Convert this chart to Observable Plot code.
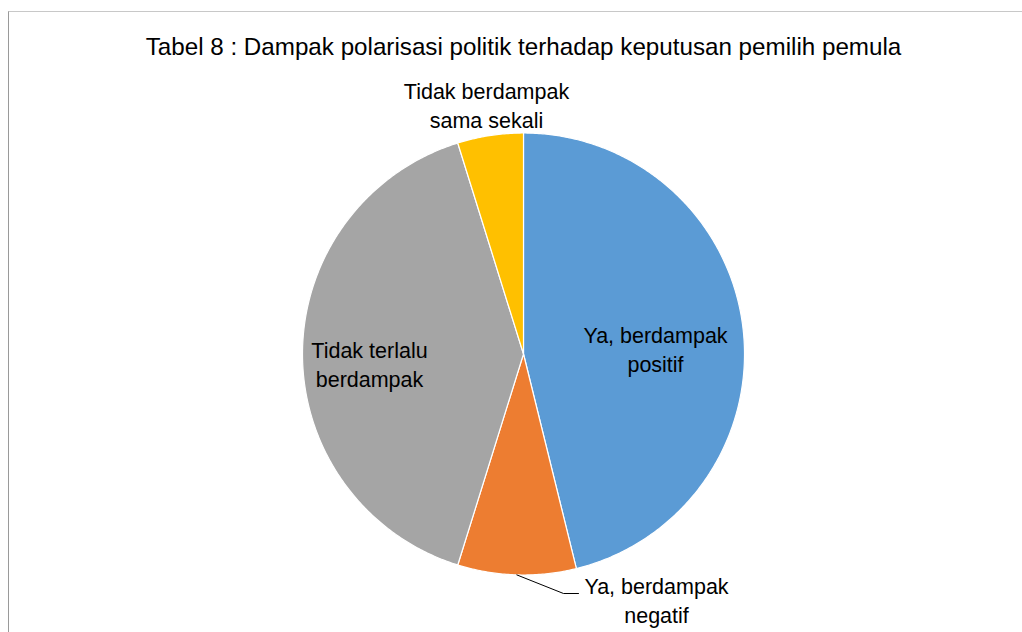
<!DOCTYPE html>
<html>
<head>
<meta charset="utf-8">
<script src="https://cdn.jsdelivr.net/npm/d3@7"></script>
<script src="https://cdn.jsdelivr.net/npm/@observablehq/plot@0.6"></script>
<style>
  html, body { margin: 0; padding: 0; background: #fff; }
  #wrap { position: relative; width: 1022px; height: 632px; overflow: hidden; }
  #border { position: absolute; left: 8px; top: 11px; width: 1030px; height: 640px;
            border-left: 1px solid #9a9a9a; border-top: 1px solid #c8c8c8; box-sizing: border-box; }
  #chart { position: absolute; left: 0; top: 0; }
</style>
</head>
<body>
<div id="wrap"><div id="border"></div><div id="chart"></div></div>
<script>
// ---- data ----
const title = "Tabel 8 : Dampak polarisasi politik terhadap keputusan pemilih pemula";
const categories = ["Ya, berdampak positif", "Ya, berdampak negatif", "Tidak terlalu berdampak", "Tidak berdampak sama sekali"];
const labelLines = ["Ya, berdampak\npositif", "Ya, berdampak\nnegatif", "Tidak terlalu\nberdampak", "Tidak berdampak\nsama sekali"];
const values = [48, 9, 42, 5];
const colors = ["#5b9bd5", "#ed7d31", "#a5a5a5", "#ffc000"];

// ---- layout ----
const W = 1022, H = 632;
const cx = 523, cy = 353.5, R = 221;
const ux = px => (px - cx) / R;
const uy = py => (cy - py) / R;

const arcs = d3.pie().sort(null).value(d => d)(values);
const slicePts = [];
arcs.forEach((a, i) => {
  slicePts.push({cat: categories[i], x: 0, y: 0});
  const n = Math.max(4, Math.ceil((a.endAngle - a.startAngle) / (Math.PI / 360)));
  for (let k = 0; k <= n; k++) {
    const t = a.startAngle + (a.endAngle - a.startAngle) * k / n;
    slicePts.push({cat: categories[i], x: Math.sin(t), y: Math.cos(t)});
  }
  slicePts.push({cat: categories[i], x: 0, y: 0});
});

// label anchors (layout)
const labelPos = [
  {x: ux(655), y: uy(348)},
  {x: ux(656), y: uy(599)},
  {x: ux(369), y: uy(363)},
  {x: ux(486), y: uy(104)}
];
const labels = labelLines.map((t, i) => ({text: t, ...labelPos[i]}));

// leader line for the orange slice
const orange = arcs[1];
const mid = (orange.startAngle + orange.endAngle) / 2;
const leader = [
  {x: Math.sin(mid), y: Math.cos(mid)},
  {x: ux(563), y: uy(593)},
  {x: ux(578), y: uy(593)}
];

const chart = Plot.plot({
  width: W, height: H,
  margin: 0,
  style: {fontFamily: "'Liberation Sans', Arial, sans-serif", background: "transparent"},
  x: {domain: [-1, 1], range: [cx - R, cx + R], axis: null},
  y: {domain: [-1, 1], range: [cy + R, cy - R], axis: null},
  color: {domain: categories, range: colors},
  marks: [
    Plot.line(slicePts, {x: "x", y: "y", z: "cat", fill: "cat", stroke: "white", strokeWidth: 1.2, curve: "linear"}),
    Plot.line(leader, {x: "x", y: "y", stroke: "#000", strokeWidth: 1}),
    Plot.text(labels, {x: "x", y: "y", text: "text", fontSize: 21.5, lineHeight: 1.33, fill: "#000", textAnchor: "middle"}),
    Plot.text([title], {x: 0, y: uy(47), text: d => d, fontSize: 24.2, fill: "#000", textAnchor: "middle"})
  ]
});
document.getElementById("chart").appendChild(chart);
</script>
</body>
</html>
